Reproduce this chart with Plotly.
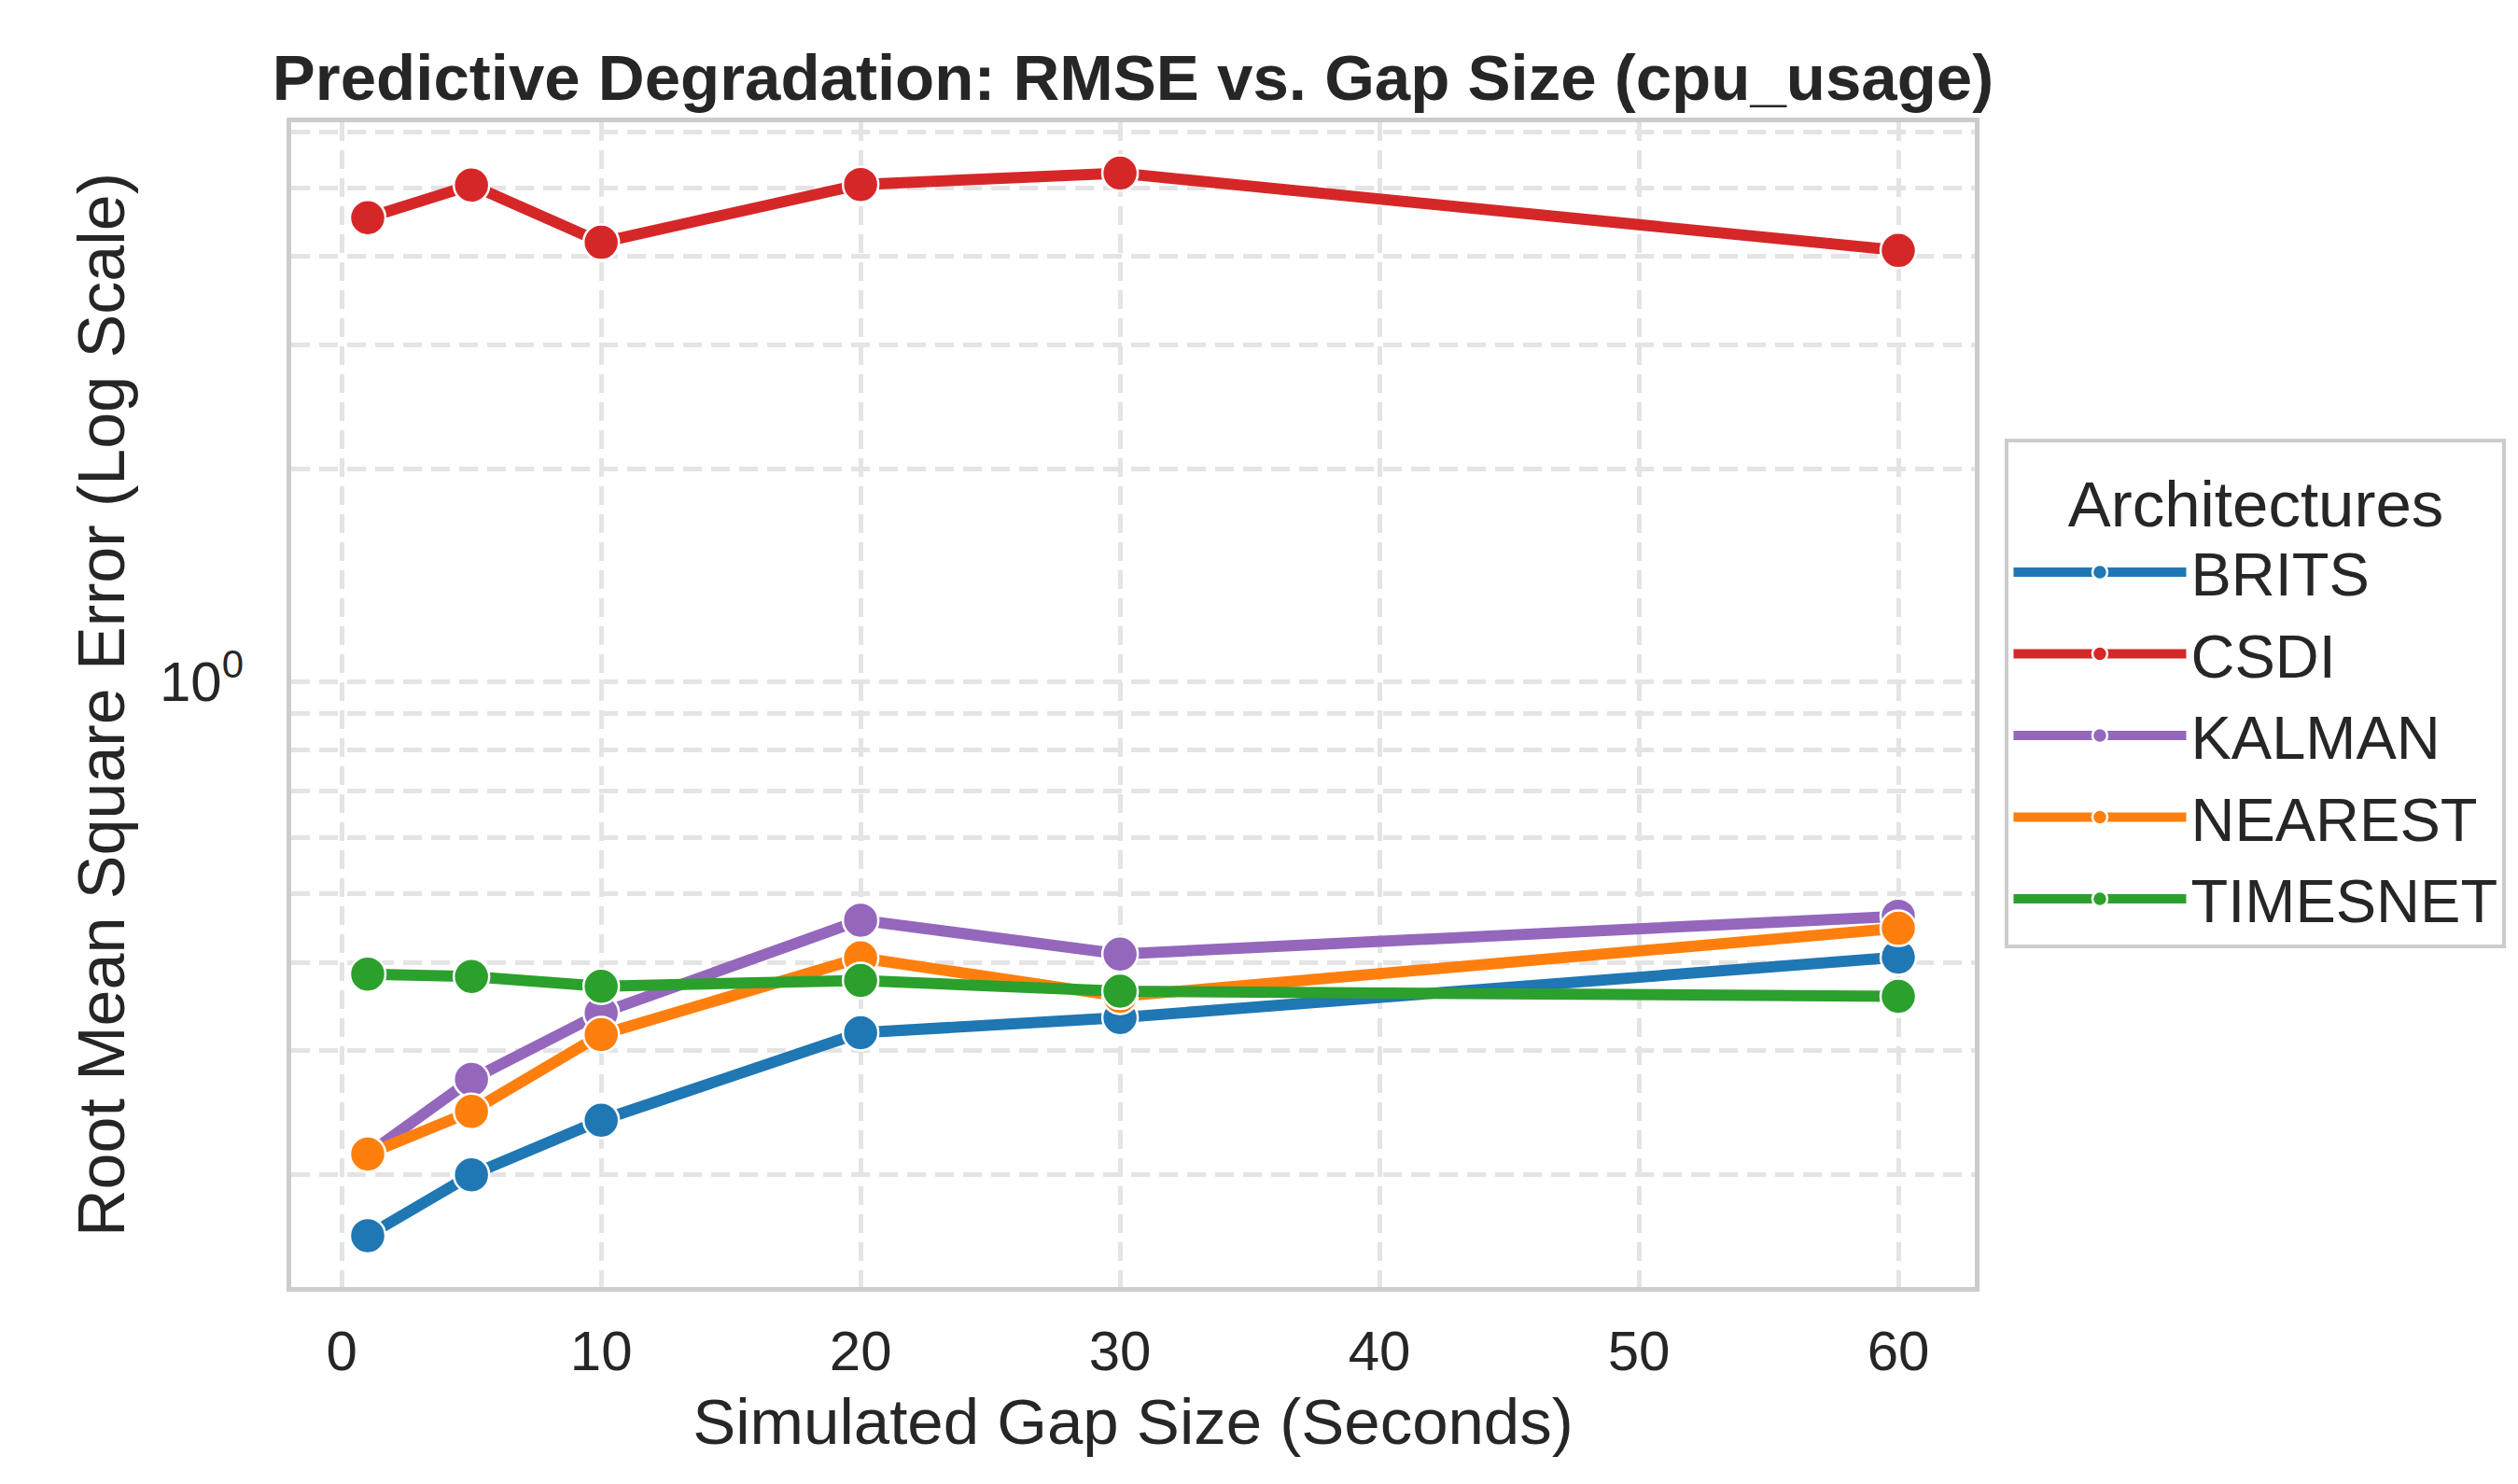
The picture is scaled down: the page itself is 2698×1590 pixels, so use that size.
import plotly.graph_objects as go

gap_sizes = [1, 5, 10, 20, 30, 60]
architectures = ["BRITS", "CSDI", "KALMAN", "NEAREST", "TIMESNET"]
rmse_brits = [0.164, 0.200, 0.239, 0.318, 0.334, 0.407]
rmse_csdi = [4.54, 5.05, 4.19, 5.06, 5.25, 4.08]
rmse_kalman = [0.214, 0.273, 0.339, 0.459, 0.411, 0.465]
rmse_nearest = [0.214, 0.246, 0.316, 0.406, 0.358, 0.447]
rmse_timesnet = [0.385, 0.382, 0.370, 0.377, 0.364, 0.358]
colors = ["#1f77b4", "#d62728", "#9467bd", "#ff7f0e", "#2ca02c"]

x_ticks = [0, 10, 20, 30, 40, 50, 60]
y_major_vals = [1]
y_major_text = ["10<sup>0</sup>"]
y_minor_vals = [0.2, 0.3, 0.4, 0.5, 0.6, 0.7, 0.8, 0.9, 2, 3, 4, 5, 6]

series = [rmse_brits, rmse_csdi, rmse_kalman, rmse_nearest, rmse_timesnet]

FONT = "Liberation Sans, Arial, sans-serif"
TXT = "#262626"
GRID = "#e4e4e4"
DASH = "20px,10px"

fig = go.Figure()
for name, vals, col in zip(architectures, series, colors):
    fig.add_trace(go.Scatter(
        x=gap_sizes, y=vals, name=name, mode="lines+markers",
        line=dict(color=col, width=12),
        marker=dict(color=col, size=38, line=dict(color="white", width=2.5)),
    ))

# page body has an 8px margin: shrink the figure by 8px and shift margins
fig.update_layout(
    width=2690, height=1582,
    paper_bgcolor="white", plot_bgcolor="white",
    margin=dict(l=304, r=582, t=123, b=211, autoexpand=False),
    font=dict(family=FONT, color=TXT),
    title=dict(
        text="<b>Predictive Degradation: RMSE vs. Gap Size (cpu_usage)</b>",
        font=dict(size=69, family=FONT, color=TXT),
        x=0.5, xref="paper", xanchor="center",
        y=1 - 75 / 1582, yref="container", yanchor="middle",
    ),
    xaxis=dict(
        range=[-1.95, 62.95], tickmode="array", tickvals=x_ticks,
        tickfont=dict(size=60, color=TXT),
        ticks="", ticklabelstandoff=12,
        showline=True, linecolor="#cccccc", linewidth=5, mirror=True,
        zeroline=False,
        showgrid=True, gridcolor=GRID, gridwidth=5, griddash=DASH,
        title=dict(text="Simulated Gap Size (Seconds)", font=dict(size=69, color=TXT), standoff=20),
    ),
    yaxis=dict(
        type="log", range=[-0.858, 0.7923],
        tickmode="array", tickvals=y_major_vals, ticktext=y_major_text,
        tickfont=dict(size=60, color=TXT),
        ticks="", ticklabelstandoff=34,
        showline=True, linecolor="#cccccc", linewidth=5, mirror=True,
        zeroline=False,
        showgrid=True, gridcolor=GRID, gridwidth=5, griddash=DASH,
        minor=dict(tickmode="array", tickvals=y_minor_vals, showgrid=True,
                   gridcolor=GRID, gridwidth=5, griddash=DASH, ticks=""),
        title=dict(text="Root Mean Square Error (Log Scale)", font=dict(size=70, color=TXT), standoff=16),
    ),
    legend=dict(
        title=dict(text="Architectures", font=dict(size=69, color=TXT), side="top center"),
        font=dict(size=65, color=TXT),
        x=1.018, xanchor="left", y=0.728, yanchor="top",
        bgcolor="white", bordercolor="#cccccc", borderwidth=4,
        itemwidth=185,
    ),
)

fig.write_html("out.html")
